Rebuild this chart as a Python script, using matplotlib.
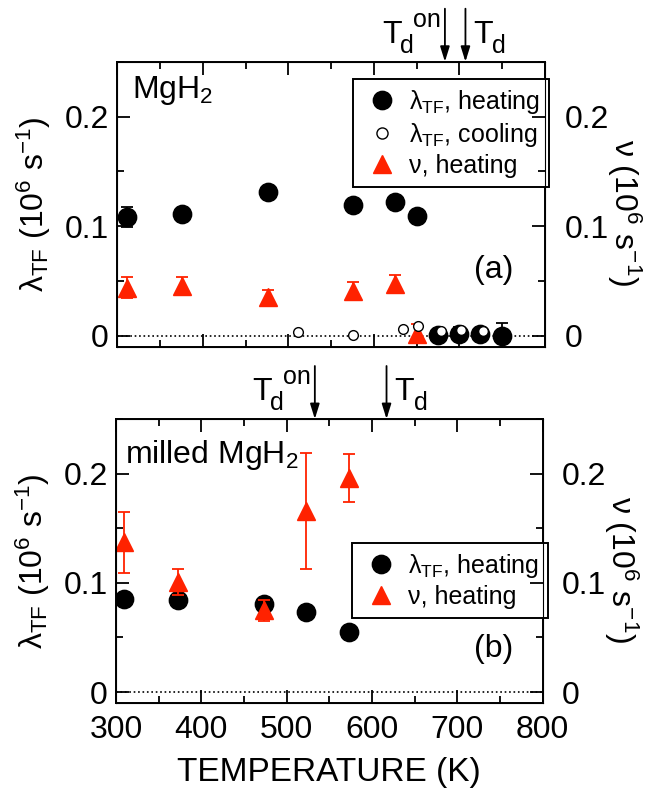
import matplotlib
matplotlib.use("Agg")
import matplotlib.pyplot as plt
from matplotlib.lines import Line2D
from matplotlib.ticker import MultipleLocator

plt.rcParams['font.family'] = ['Liberation Sans', 'DejaVu Sans']
plt.rcParams['mathtext.fontset'] = 'custom'
plt.rcParams['mathtext.rm'] = 'Liberation Sans'
plt.rcParams['mathtext.it'] = 'Liberation Sans'

RED = '#ff2200'

# ---------------- data: panel (a) MgH2 ----------------
a_heat_T = [311, 376, 476, 575, 625, 650, 675, 699, 724, 750]
a_heat_lam = [0.108, 0.111, 0.131, 0.119, 0.122, 0.109, 0.001, 0.002, 0.002, 0.000]
a_heat_err = [0.009, 0.004, 0.003, 0.003, 0.003, 0.003, 0.003, 0.006, 0.003, 0.012]

a_cool_T = [511, 575, 634, 651, 678, 702, 727]
a_cool_lam = [0.003, 0.0005, 0.006, 0.009, 0.004, 0.005, 0.004]

a_nu_T = [311, 376, 476, 575, 625, 650]
a_nu = [0.044, 0.0456, 0.035, 0.041, 0.047, 0.002]
a_nu_err = [0.010, 0.008, 0.007, 0.008, 0.0083, 0.009]

a_Td_on = 683
a_Td = 707

# ---------------- data: panel (b) milled MgH2 ----------------
b_T = [309, 373, 473, 523, 573]
b_lam = [0.085, 0.0845, 0.0805, 0.073, 0.0546]
b_nu = [0.137, 0.1006, 0.0747, 0.166, 0.196]
b_nu_err = [0.028, 0.012, 0.010, 0.053, 0.022]

b_Td_on = 533
b_Td = 617

x_ticks = [300, 400, 500, 600, 700, 800]
y_ticks = [0, 0.1, 0.2]
y_ticklabels = ['0', '0.1', '0.2']

FS = 23
SFS = 18
LFS = 18
MS = 13.2
MS_OPEN = 7

fig = plt.figure(figsize=(6.49, 7.90), dpi=100)
W, H = 649, 790


def px_axes(l, r, t, b):
    return fig.add_axes([l / W, 1 - b / H, (r - l) / W, (b - t) / H])


ax_a = px_axes(117.3, 545, 61.7, 346.7)
ax_b = px_axes(116, 542.7, 419, 703)


def style(ax, show_xlabels):
    ax.set_xlim(300, 800)
    ax.set_ylim(-0.01, 0.25)
    ax.set_xticks(x_ticks)
    ax.xaxis.set_minor_locator(MultipleLocator(50))
    ax.set_yticks(y_ticks)
    ax.set_yticklabels(y_ticklabels)
    ax.yaxis.set_minor_locator(MultipleLocator(0.05))
    ax.tick_params(which='both', direction='in', top=True, right=True,
                   labelsize=FS, width=1.3, pad=6)
    ax.tick_params(which='major', length=9.5)
    ax.tick_params(which='minor', length=5)
    if not show_xlabels:
        ax.tick_params(labelbottom=False)
    else:
        ax.tick_params(axis='x', pad=9)
    for s in ax.spines.values():
        s.set_linewidth(1.4)
    ax.axhline(0, color='black', ls=':', lw=1.2, zorder=1)
    # right labels
    ax2 = ax.twinx()
    ax2.set_ylim(ax.get_ylim())
    ax2.set_yticks(y_ticks)
    ax2.set_yticklabels(y_ticklabels)
    ax2.yaxis.set_minor_locator(MultipleLocator(0.05))
    ax2.tick_params(which='both', direction='in', labelsize=FS, width=1.3, pad=14)
    ax2.tick_params(which='major', length=9.5)
    ax2.tick_params(which='minor', length=5)
    ax.set_ylabel(r'$\mathregular{λ_{TF}\ (10^6\ s^{-1})}$', fontsize=FS)
    ax.yaxis.set_label_coords(-0.15, 0.5)
    ax.text(1.185, 0.47, r'$\mathregular{ν\ (10^6\ s^{-1})}$', fontsize=FS,
            rotation=270, ha='center', va='center', transform=ax.transAxes)
    return ax2


style(ax_a, False)
style(ax_b, True)
ax_b.set_xlabel('TEMPERATURE (K)', fontsize=24, labelpad=8)

# ---- panel (a) data ----
ax_a.errorbar(a_nu_T, a_nu, yerr=a_nu_err, fmt='^', color=RED, ms=MS,
              mec=RED, ecolor=RED, elinewidth=1.3, capsize=4, capthick=1.3,
              zorder=3, clip_on=False)
ax_a.errorbar(a_heat_T, a_heat_lam, yerr=a_heat_err, fmt='o', color='black',
              ms=MS, ecolor='black', elinewidth=1.3, capsize=4, capthick=1.3,
              zorder=4)
ax_a.plot(a_cool_T, a_cool_lam, 'o', ms=MS_OPEN, mfc='white', mec='black',
          mew=1.0, zorder=5)

# ---- panel (b) data ----
ax_b.plot(b_T, b_lam, 'o', color='black', ms=MS, zorder=3)
ax_b.errorbar(b_T, b_nu, yerr=b_nu_err, fmt='^', color=RED, ms=MS,
              mec=RED, ecolor=RED, elinewidth=1.3, capsize=4, capthick=1.3,
              zorder=4)

# ---- labels ----
ax_a.text(0.035, 0.90, r'$\mathregular{MgH_2}$', fontsize=FS,
          transform=ax_a.transAxes, ha='left', va='center')
ax_a.text(0.925, 0.27, '(a)', fontsize=FS, transform=ax_a.transAxes,
          ha='right', va='center')
ax_b.text(0.02, 0.875, r'$\mathregular{milled\ MgH_2}$', fontsize=FS,
          transform=ax_b.transAxes, ha='left', va='center')
ax_b.text(0.93, 0.19, '(b)', fontsize=FS, transform=ax_b.transAxes,
          ha='right', va='center')

PT = 0.72  # points per pixel at dpi 100


def ptxt(ax, t, base, dx_px, dy_px, s, fs):
    ax.annotate(s, xy=(t, base), xycoords=('data', 'axes fraction'),
                xytext=(dx_px * PT, dy_px * PT), textcoords='offset points',
                ha='left', va='baseline', fontsize=fs, annotation_clip=False)


# ---- arrows ----
def arrows(ax, t_on, t_d, ax_h_px):
    top = 1 + 53 / ax_h_px
    for t in (t_on, t_d):
        ax.annotate('', xy=(t, 1.0), xycoords=('data', 'axes fraction'),
                    xytext=(t, top), textcoords=('data', 'axes fraction'),
                    arrowprops=dict(arrowstyle='-|>,head_length=0.9,head_width=0.28',
                                    color='black', lw=1.3, shrinkA=0, shrinkB=0),
                    annotation_clip=False)
    base = 1 + 19 / ax_h_px
    # T_d^on
    ptxt(ax, t_on, base, -63, 0, 'T', FS)
    ptxt(ax, t_on, base, -45, -10, 'd', SFS)
    ptxt(ax, t_on, base, -32, 16, 'on', SFS)
    # T_d
    ptxt(ax, t_d, base, 8, 0, 'T', FS)
    ptxt(ax, t_d, base, 27, -10, 'd', SFS)


arrows(ax_a, a_Td_on, a_Td, 285)
arrows(ax_b, b_Td_on, b_Td, 284)

# ---- legends ----
h_heat = Line2D([], [], ls='none', marker='o', color='black', ms=MS)
h_cool = Line2D([], [], ls='none', marker='o', mfc='white', mec='black', ms=8, mew=1.0)
h_nu = Line2D([], [], ls='none', marker='^', color=RED, ms=MS)

leg_kw = dict(fontsize=LFS, frameon=True, fancybox=False, edgecolor='black',
              framealpha=1, handletextpad=0.3, borderpad=0.35, labelspacing=0.2,
              handlelength=1.6, borderaxespad=0)
lg = ax_a.legend([h_heat, h_cool, h_nu],
                 [r'$\mathregular{λ_{TF}}$, heating', r'$\mathregular{λ_{TF}}$, cooling',
                  'ν, heating'],
                 loc='upper right', bbox_to_anchor=(1.009, 0.939), **leg_kw)
lg.get_frame().set_linewidth(1.4)
lg.set_zorder(10)
lg2 = ax_b.legend([h_heat, h_nu],
                  [r'$\mathregular{λ_{TF}}$, heating', 'ν, heating'],
                  loc='upper right', bbox_to_anchor=(1.012, 0.563), **leg_kw)
lg2.get_frame().set_linewidth(1.4)
lg2.set_zorder(10)

fig.savefig('out.png', dpi=100)
